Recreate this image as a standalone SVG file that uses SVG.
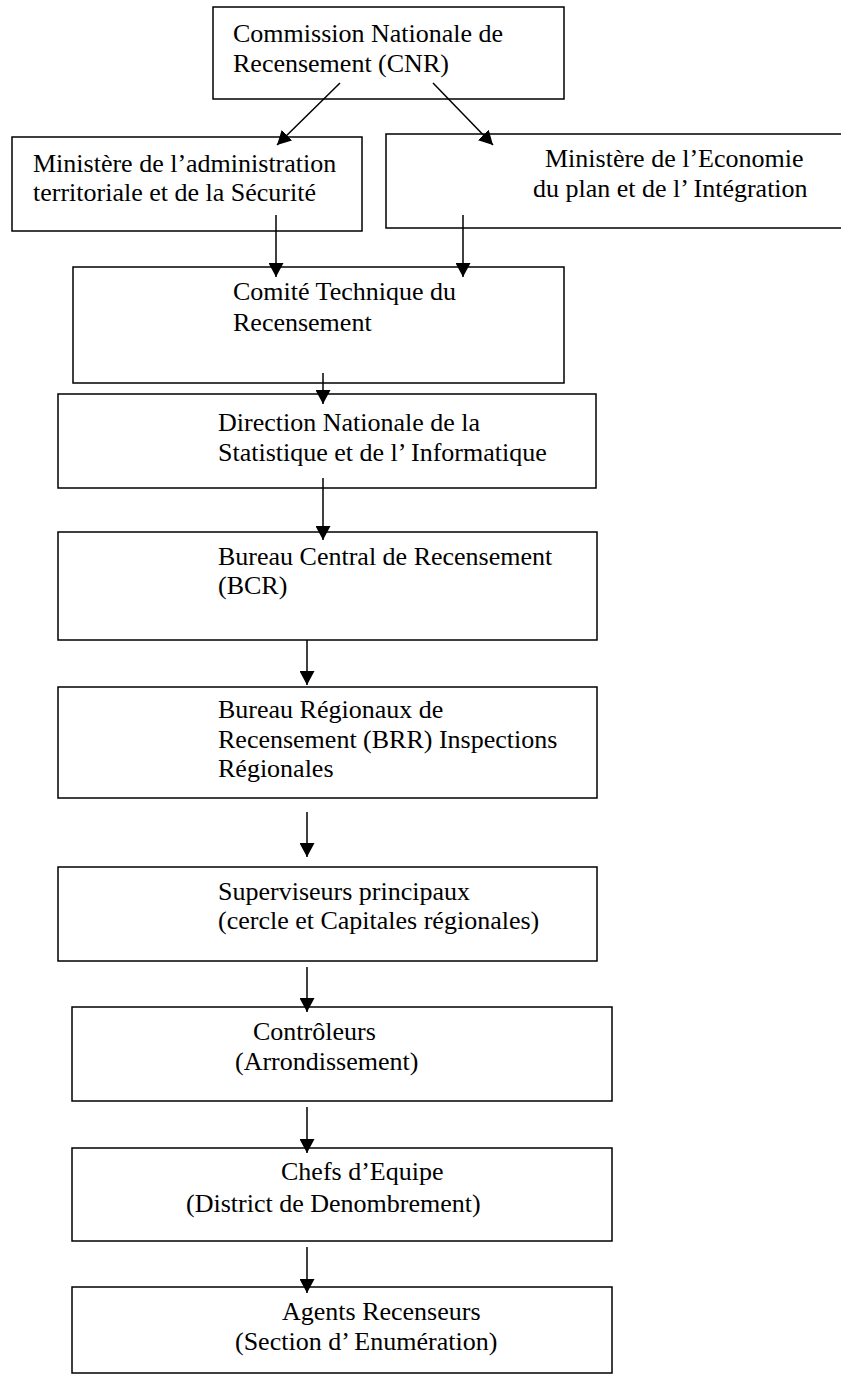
<svg xmlns="http://www.w3.org/2000/svg" width="841" height="1375" viewBox="0 0 841 1375">
<defs>
<marker id="ah" markerUnits="userSpaceOnUse" markerWidth="15" markerHeight="15" refX="14" refY="7.5" orient="auto">
<path d="M0,0 L14,7.5 L0,15 z" fill="#000"/>
</marker>
<style>
.box{fill:#fff;stroke:#000;stroke-width:1.5}
.t{font-family:"Liberation Serif","Times New Roman",serif;font-size:26px;fill:#000}
.c{stroke:#000;stroke-width:1.5;fill:none;marker-end:url(#ah)}
</style>
</defs>
<rect width="841" height="1375" fill="#fff"/>
<g id="cnr"><rect class="box" x="213" y="7" width="351" height="92"/>
<text class="t" x="233" y="42">Commission Nationale de</text>
<text class="t" x="233" y="72">Recensement (CNR)</text></g>
<g id="mats"><rect class="box" x="12" y="137" width="350" height="94"/>
<text class="t" x="33" y="172">Ministère de l’administration</text>
<text class="t" x="33" y="201">territoriale et de la Sécurité</text></g>
<g id="mepi"><rect class="box" x="386" y="134" width="470" height="94"/>
<text class="t" x="545" y="167">Ministère de l’Economie</text>
<text class="t" x="533" y="197">du plan et de l’ Intégration</text></g>
<g id="ctr"><rect class="box" x="73" y="267" width="491" height="116"/>
<text class="t" x="233" y="300">Comité Technique du</text>
<text class="t" x="233" y="331">Recensement</text></g>
<g id="dnsi"><rect class="box" x="58" y="394" width="538" height="94"/>
<text class="t" x="218" y="431">Direction Nationale de la</text>
<text class="t" x="218" y="461">Statistique et de l’ Informatique</text></g>
<g id="bcr"><rect class="box" x="58" y="532" width="539" height="108"/>
<text class="t" x="218" y="565">Bureau Central de Recensement</text>
<text class="t" x="218" y="594">(BCR)</text></g>
<g id="brr"><rect class="box" x="58" y="687" width="539" height="111"/>
<text class="t" x="218" y="718">Bureau Régionaux de</text>
<text class="t" x="218" y="748">Recensement (BRR) Inspections</text>
<text class="t" x="218" y="777">Régionales</text></g>
<g id="sup"><rect class="box" x="58" y="867" width="539" height="94"/>
<text class="t" x="218" y="900">Superviseurs principaux</text>
<text class="t" x="218" y="929">(cercle et Capitales régionales)</text></g>
<g id="ctl"><rect class="box" x="72" y="1007" width="540" height="94"/>
<text class="t" x="253" y="1040">Contrôleurs</text>
<text class="t" x="235" y="1070">(Arrondissement)</text></g>
<g id="che"><rect class="box" x="72" y="1148" width="540" height="93"/>
<text class="t" x="281" y="1180">Chefs d’Equipe</text>
<text class="t" x="186" y="1212">(District de Denombrement)</text></g>
<g id="agt"><rect class="box" x="72" y="1287" width="540" height="86"/>
<text class="t" x="282" y="1320">Agents Recenseurs</text>
<text class="t" x="235" y="1350">(Section d’ Enumération)</text></g>
<g id="connectors">
<line class="c" x1="340" y1="83" x2="277" y2="145"/>
<line class="c" x1="433" y1="83" x2="493" y2="145"/>
<line class="c" x1="276" y1="215" x2="276" y2="277"/>
<line class="c" x1="463" y1="215" x2="463" y2="277"/>
<line class="c" x1="323" y1="373" x2="323" y2="404"/>
<line class="c" x1="323" y1="478" x2="323" y2="540"/>
<line class="c" x1="307" y1="640" x2="307" y2="685"/>
<line class="c" x1="307" y1="812" x2="307" y2="857"/>
<line class="c" x1="307" y1="967" x2="307" y2="1012"/>
<line class="c" x1="307" y1="1107" x2="307" y2="1153"/>
<line class="c" x1="307" y1="1247" x2="307" y2="1293"/>
</g>
</svg>
